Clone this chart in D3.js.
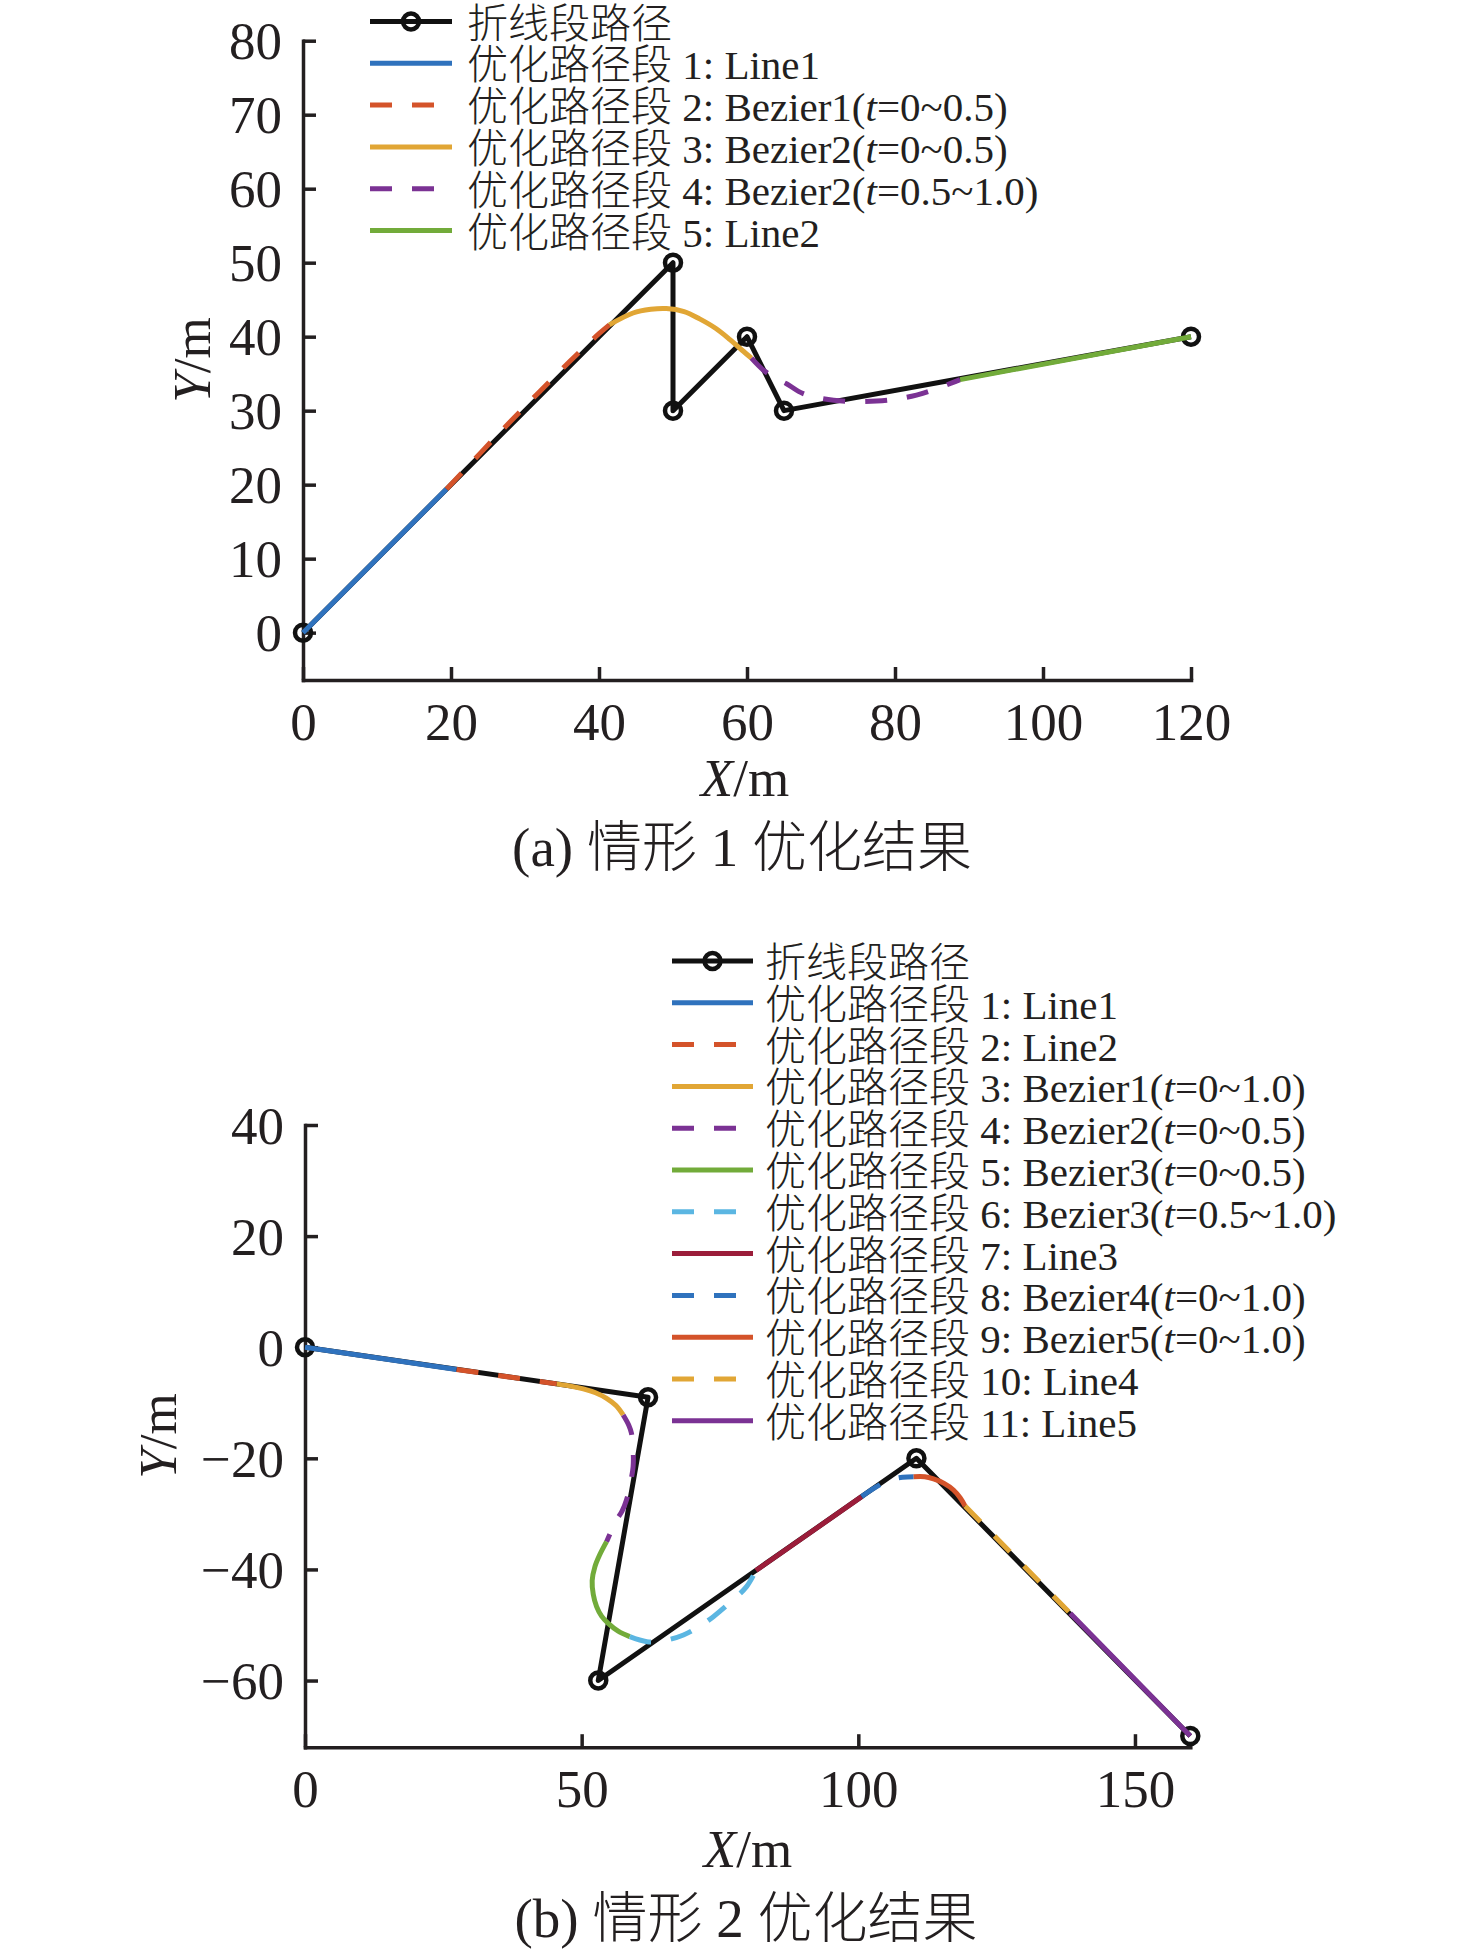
<!DOCTYPE html>
<html>
<head>
<meta charset="utf-8">
<script src="https://cdn.jsdelivr.net/npm/d3@7"></script>
<style>
    body { margin: 0; background: #fff; }
    svg { display: block; }
</style>
</head>
<body>
<svg id="chart" width="1476" height="1956"></svg>
<script>
// ---------- data, panel (a) ----------
let polyline_a = [[0, 0], [50, 50], [50, 30], [60, 40], [65, 30], [120, 40]];
let seg_a1 = [[0, 0], [19.4, 19.4]];
let seg_a2 = [[19.4, 19.4], [24, 24.3], [28, 28.5], [32, 32.6], [36, 36.6], [40, 40.4], [41.4, 41.6]];
let seg_a3 = [[41.4, 41.6], [44.6, 43.2], [47, 43.7], [49.1, 43.8], [51.5, 43.4], [53.6, 42.4], [55.8, 41.1], [57.7, 39.6], [59.3, 38.2], [60.6, 37.1]];
let seg_a4 = [[60.6, 37.1], [62.2, 35.5], [64, 34.3], [65.4, 33.6], [67.6, 32.3], [71.7, 31.4], [77.5, 31.3], [82.9, 32.1], [88.8, 34.2]];
let seg_a5 = [[88.8, 34.2], [120, 40]];
let labels_a = [
    '折线段路径',
    '优化路径段 1: Line1',
    '优化路径段 2: Bezier1(t=0~0.5)',
    '优化路径段 3: Bezier2(t=0~0.5)',
    '优化路径段 4: Bezier2(t=0.5~1.0)',
    '优化路径段 5: Line2'
];
let x_ticks_a = [0, 20, 40, 60, 80, 100, 120];
let y_ticks_a = [0, 10, 20, 30, 40, 50, 60, 70, 80];

// ---------- data, panel (b) ----------
let polyline_b = [[0, 0], [62, -9], [53, -60], [110.5, -20], [160, -70]];
let seg_b1 = [[0, 0], [27.4, -4.0]];
let seg_b2 = [[27.4, -4.0], [45.5, -6.6]];
let seg_b3 = [[45.5, -6.6], [48, -7.0], [50.3, -7.5], [52.5, -8.2], [54.5, -9.2], [56.2, -10.5], [57.5, -12.2]];
let seg_b4 = [[57.5, -12.2], [58.5, -14], [59, -15.5], [59.3, -18.5], [59.3, -21.5], [58.8, -24.5], [58.1, -27.5], [57.3, -29.5], [56.3, -31.1], [55.4, -33], [54.5, -35]];
let seg_b5 = [[54.5, -35], [53.2, -37.5], [52.4, -39.5], [51.9, -42], [52.1, -44.5], [52.7, -46.7], [53.6, -48.4], [54.8, -49.7], [56.6, -51.1], [58.7, -52.1]];
let seg_b6 = [[58.7, -52.1], [61.8, -53], [65, -52.8], [68.4, -51.8], [71.2, -50.3], [73.8, -48.5], [77, -45.8], [79.8, -43.1], [81.5, -40.2]];
let seg_b7 = [[81.5, -40.2], [100.6, -26.9]];
let seg_b8 = [[100.6, -26.9], [102.5, -25.6], [104.2, -24.6], [106, -23.8], [108, -23.4], [110, -23.3]];
let seg_b9 = [[110, -23.3], [112, -23.3], [113.6, -23.7], [115.5, -24.5], [117.2, -25.7], [118.4, -27.1], [119.3, -28.6]];
let seg_b10 = [[119.3, -28.6], [138.3, -47.9]];
let seg_b11 = [[138.3, -47.9], [160, -70]];
let labels_b = [
    '折线段路径',
    '优化路径段 1: Line1',
    '优化路径段 2: Line2',
    '优化路径段 3: Bezier1(t=0~1.0)',
    '优化路径段 4: Bezier2(t=0~0.5)',
    '优化路径段 5: Bezier3(t=0~0.5)',
    '优化路径段 6: Bezier3(t=0.5~1.0)',
    '优化路径段 7: Line3',
    '优化路径段 8: Bezier4(t=0~1.0)',
    '优化路径段 9: Bezier5(t=0~1.0)',
    '优化路径段 10: Line4',
    '优化路径段 11: Line5'
];
let x_ticks_b = [0, 50, 100, 150];
let y_ticks_b = [-60, -40, -20, 0, 20, 40];

// ---------- styles ----------
let color_black = '#111111';
let color_axis = '#231f20';
let matlab_colors = ['#2f72bd', '#d4532a', '#e1a635', '#7b3294', '#72ab3a', '#5bb6e2', '#9b1d3a'];
let dash_pattern = '22,20';
let line_w = 5;
let font_latin = "'Liberation Serif', 'Times New Roman', serif";
let font_mixed = "'Liberation Serif', 'Noto Sans CJK SC', serif";

let svg = d3.select('#chart');

function add_label_text(sel, label) {
    // italic t inside "(t=...)"
    let parts = label.split(/(?<=\()t(?==)/);
    sel.append('tspan').text(parts[0]);
    if (parts.length > 1) {
        sel.append('tspan').attr('font-style', 'italic').text('t');
        sel.append('tspan').text(parts[1]);
    }
}

function draw_panel(opts) {
    let x = d3.scaleLinear().domain(opts.x_domain).range(opts.x_range);
    let y = d3.scaleLinear().domain(opts.y_domain).range(opts.y_range);
    let g = svg.append('g');

    let x_axis = g.append('g')
        .attr('transform', 'translate(0,' + opts.y_range[0] + ')')
        .call(d3.axisBottom(x).tickValues(opts.x_ticks).tickSizeInner(-13).tickSizeOuter(0));
    let y_axis = g.append('g')
        .attr('transform', 'translate(' + opts.x_range[0] + ',0)')
        .call(d3.axisLeft(y).tickValues(opts.y_ticks).tickSizeInner(-13).tickSizeOuter(0).tickPadding(21));

    [x_axis, y_axis].forEach(function (ax) {
        ax.select('.domain').attr('stroke', color_axis).attr('stroke-width', 3.5).attr('stroke-linecap', 'square');
        ax.selectAll('.tick line').attr('stroke', color_axis).attr('stroke-width', 3.5);
        ax.selectAll('.tick text')
            .attr('font-size', 53)
            .attr('font-family', font_latin)
            .attr('fill', color_axis);
    });
    x_axis.selectAll('.tick text').attr('y', 60).attr('dy', 0);
    y_axis.selectAll('.tick text').attr('dy', '0.34em');

    // axis titles
    let x_title = g.append('text')
        .attr('x', opts.x_title_pos[0]).attr('y', opts.x_title_pos[1])
        .attr('text-anchor', 'middle')
        .attr('font-size', 53).attr('font-family', font_latin).attr('fill', color_axis);
    x_title.append('tspan').attr('font-style', 'italic').text('X');
    x_title.append('tspan').text('/m');

    let y_title = g.append('text')
        .attr('transform', 'translate(' + opts.y_title_pos[0] + ',' + opts.y_title_pos[1] + ') rotate(-90)')
        .attr('text-anchor', 'middle')
        .attr('font-size', 53).attr('font-family', font_latin).attr('fill', color_axis);
    y_title.append('tspan').attr('font-style', 'italic').text('Y');
    y_title.append('tspan').text('/m');

    g.append('text')
        .attr('x', opts.caption_pos[0]).attr('y', opts.caption_pos[1])
        .attr('text-anchor', 'middle')
        .attr('font-size', 55).attr('font-weight', 300)
        .attr('font-family', font_mixed).attr('fill', color_axis)
        .text(opts.caption);

    let line = d3.line()
        .x(d => x(d[0]))
        .y(d => y(d[1]))
        .curve(d3.curveCatmullRom.alpha(0.5));

    // polyline path (black) with markers
    g.append('path')
        .attr('d', d3.line().x(d => x(d[0])).y(d => y(d[1]))(opts.polyline))
        .attr('fill', 'none')
        .attr('stroke', color_black)
        .attr('stroke-width', line_w)
        .attr('stroke-linejoin', 'round');

    g.selectAll('circle.marker')
        .data(opts.polyline)
        .enter().append('circle')
        .attr('class', 'marker')
        .attr('cx', d => x(d[0]))
        .attr('cy', d => y(d[1]))
        .attr('r', 8)
        .attr('fill', 'none')
        .attr('stroke', color_black)
        .attr('stroke-width', 4.5);

    // optimized segments
    opts.segments.forEach(function (seg, i) {
        g.append('path')
            .attr('d', line(seg))
            .attr('fill', 'none')
            .attr('stroke', matlab_colors[i % matlab_colors.length])
            .attr('stroke-width', line_w)
            .attr('stroke-dasharray', i % 2 === 1 ? dash_pattern : null);
    });

    // legend
    let lg = g.append('g');
    opts.labels.forEach(function (label, i) {
        let row_y = opts.legend_y0 + i * opts.legend_dy;
        let sample = lg.append('line')
            .attr('x1', opts.legend_x[0]).attr('x2', opts.legend_x[1])
            .attr('y1', row_y).attr('y2', row_y)
            .attr('stroke-width', line_w);
        if (i === 0) {
            sample.attr('stroke', color_black);
            lg.append('circle')
                .attr('cx', (opts.legend_x[0] + opts.legend_x[1]) / 2)
                .attr('cy', row_y)
                .attr('r', 8)
                .attr('fill', 'none')
                .attr('stroke', color_black)
                .attr('stroke-width', 4.5);
        } else {
            sample.attr('stroke', matlab_colors[(i - 1) % matlab_colors.length])
                .attr('stroke-dasharray', (i - 1) % 2 === 1 ? dash_pattern : null);
        }
        let txt = lg.append('text')
            .attr('x', opts.legend_x[2])
            .attr('y', row_y + 16)
            .attr('font-size', 41)
            .attr('font-weight', 300)
            .attr('font-family', font_mixed)
            .attr('fill', color_axis);
        add_label_text(txt, label);
    });
}

draw_panel({
    x_domain: [0, 120], x_range: [303, 1191],
    y_domain: [-6.4, 80], y_range: [680, 40.7],
    x_ticks: x_ticks_a, y_ticks: y_ticks_a,
    polyline: polyline_a,
    segments: [seg_a1, seg_a2, seg_a3, seg_a4, seg_a5],
    labels: labels_a,
    legend_x: [370, 452, 467], legend_y0: 21.5, legend_dy: 41.8,
    x_title_pos: [745, 796],
    y_title_pos: [210, 360],
    caption: '(a) 情形 1 优化结果',
    caption_pos: [742, 866]
});

draw_panel({
    x_domain: [0, 160], x_range: [305, 1190.3],
    y_domain: [-72, 40], y_range: [1747.2, 1125],
    x_ticks: x_ticks_b, y_ticks: y_ticks_b,
    polyline: polyline_b,
    segments: [seg_b1, seg_b2, seg_b3, seg_b4, seg_b5, seg_b6, seg_b7, seg_b8, seg_b9, seg_b10, seg_b11],
    labels: labels_b,
    legend_x: [672, 753, 765], legend_y0: 961, legend_dy: 41.8,
    x_title_pos: [748, 1867],
    y_title_pos: [176, 1436],
    caption: '(b) 情形 2 优化结果',
    caption_pos: [746, 1937]
});
</script>
</body>
</html>
